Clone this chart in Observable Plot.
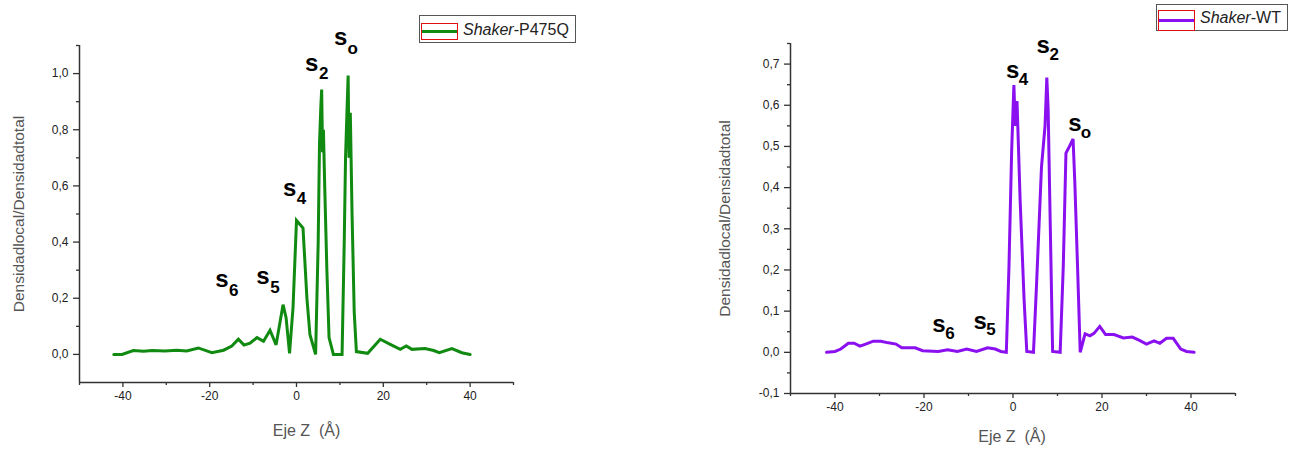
<!DOCTYPE html>
<html>
<head>
<meta charset="utf-8">
<script src="https://cdn.jsdelivr.net/npm/d3@7"></script>
<script src="https://cdn.jsdelivr.net/npm/@observablehq/plot@0.6"></script>
<style>
  body { margin: 0; background: #fff; font-family: "Liberation Sans", Arial, sans-serif; }
  #wrap { position: relative; width: 1298px; height: 451px; overflow: hidden; background: #fff; }
  .panel { position: absolute; top: 0; }
  .legend { position: absolute; box-sizing: border-box; border: 1px solid #555; background: #fff;
            font-size: 16px; color: #222; white-space: nowrap; }
  .legend .sw { position: absolute; box-sizing: border-box; border: 1px solid #e01010; }
  .legend .ln { position: absolute; left: 0; right: 0; height: 3px; }
  .legend .tx { position: absolute; }
</style>
</head>
<body>
<div id="wrap"></div>
<script>
// ---------- data ----------
const p475qZ = [-42.1,-40.2,-37.6,-35.2,-33.3,-30.3,-27.6,-25.3,-22.6,-19.5,-16.8,-14.9,-13.4,-12.1,-10.7,-9.1,-7.6,-6.1,-4.7,-3.1,-2.4,-1.6,-0.8,0.0,1.5,2.4,3.1,4.4,5.0,5.3,5.6,5.8,6.0,6.2,6.5,7.0,7.5,8.5,10.5,11.0,11.3,11.6,11.9,12.1,12.4,12.8,13.3,13.8,16.4,19.3,21.6,23.9,25.3,26.6,29.6,31.6,32.9,35.8,38.1,40.0];
const p475qD = [0.0,0.0,0.014,0.011,0.014,0.012,0.015,0.012,0.023,0.006,0.015,0.03,0.054,0.033,0.04,0.06,0.047,0.086,0.034,0.177,0.131,0.004,0.167,0.477,0.45,0.2,0.07,0.0,0.4,0.75,0.88,0.943,0.72,0.80,0.6,0.3,0.06,0.0,0.0,0.4,0.7,0.85,0.993,0.70,0.86,0.5,0.15,0.01,0.004,0.054,0.036,0.018,0.03,0.018,0.021,0.014,0.006,0.021,0.006,0.0];

const wtZ = [-41.9,-40,-38.7,-37,-35.7,-34.4,-33.1,-31.4,-29.7,-28,-26.3,-25,-22,-20.3,-16.8,-14.7,-12.5,-10.4,-8.2,-5.7,-4,-2.7,-1.5,-0.9,-0.3,0.2,0.5,0.9,1.6,2.5,3.1,4.6,5.3,6.4,7.2,7.6,7.9,8.2,8.9,10.6,11.3,11.9,12.5,13.5,13.9,14.5,15.1,16.2,17.3,18.2,19.5,20.8,22.7,24.8,26.8,28.2,30,31.7,33,34.5,36,37.7,39,40.7];
const wtD = [0,0.002,0.008,0.022,0.022,0.015,0.02,0.027,0.027,0.023,0.02,0.011,0.011,0.004,0.002,0.006,0.002,0.008,0.002,0.011,0.008,0.002,0,0.21,0.49,0.649,0.55,0.61,0.37,0.126,0.002,0,0.167,0.45,0.55,0.667,0.59,0.41,0.002,0,0.21,0.484,0.496,0.518,0.41,0.21,0,0.045,0.04,0.046,0.063,0.043,0.043,0.035,0.037,0.03,0.02,0.028,0.022,0.034,0.034,0.008,0.002,0];

// peak labels (site subscript, position in data units)
const p475qLabels = ["o","2","4","5","6"];
const p475qLabelZ = [10.2, 3.5, -1.6, -7.75, -17.2];
const p475qLabelD = [1.128, 1.038, 0.593, 0.278, 0.268];
const wtLabels = ["4","2","o","5","6"];
const wtLabelZ = [-0.1, 6.8, 13.9, -7.4, -16.65];
const wtLabelD = [0.684, 0.745, 0.556, 0.076, 0.068];

const xMajor = [-40,-20,0,20,40];
const xMinor = [-50,-30,-10,10,30,50];
const yMajorL = [0,0.2,0.4,0.6,0.8,1.0];
const yMinorL = [0.1,0.3,0.5,0.7,0.9,1.1];
const yMajorR = [-0.1,0,0.1,0.2,0.3,0.4,0.5,0.6,0.7];
const yMinorR = [-0.05,0.05,0.15,0.25,0.35,0.45,0.55,0.65,0.75];

const yLabel = "Densidadlocal/Densidadtotal";
const xLabel = "Eje Z\u00a0 (Å)";

const comma = d => d3.format(".1f")(d).replace(".", ",").replace("−", "-");
const fontFam = "'Liberation Sans', Arial, sans-serif";

function panel(opts) {
  const data = opts.z.map((z, i) => ({z, d: opts.d[i]}));
  const labs = opts.lab.map((s, i) => ({s, z: opts.labZ[i], d: opts.labD[i]}));
  return Plot.plot({
    width: opts.width, height: 451,
    marginLeft: opts.ml, marginRight: opts.mr, marginTop: opts.mt, marginBottom: opts.mb,
    style: {fontFamily: fontFam, background: "#fff", overflow: "visible"},
    x: {domain: [-50, 50]},
    y: {domain: opts.ydom},
    marks: [
      Plot.axisX({ticks: xMajor, tickSize: 5, tickPadding: 4, tickFormat: d => String(d), fontSize: 12, fill: "#222", stroke: "#333", strokeWidth: 1.3, label: null}),
      Plot.axisX({ticks: xMinor, tickSize: 3, tickFormat: () => "", stroke: "#333", strokeWidth: 1.3, label: null}),
      Plot.axisY({ticks: opts.yMajor, tickSize: 6, tickPadding: 5, tickFormat: comma, fontSize: 12, fill: "#222", stroke: "#333", strokeWidth: 1.3, label: null}),
      Plot.axisY({ticks: opts.yMinor, tickSize: 3, tickFormat: () => "", stroke: "#333", strokeWidth: 1.3, label: null}),
      Plot.ruleX([-50], {stroke: "#333", strokeWidth: 1.5}),
      Plot.ruleY([opts.ydom[0]], {stroke: "#333", strokeWidth: 1.5}),
      Plot.line(data, {x: "z", y: "d", stroke: opts.color, strokeWidth: 3, strokeLinejoin: "miter", strokeMiterlimit: 3}),
      Plot.text(labs, {x: "z", y: "d", text: () => "s", fontSize: 24, fontWeight: "bold", fill: "#000"}),
      Plot.text(labs, {x: "z", y: "d", text: "s", dx: opts.subDx, dy: opts.subDy, fontSize: 17, fontWeight: "bold", fill: "#000"}),
      Plot.text([yLabel], {text: d => d, frameAnchor: "left", textAnchor: "middle", dx: -opts.ylOff, rotate: -90, fontSize: 15.5, fill: "#555"}),
      Plot.text([xLabel], {text: d => d, frameAnchor: "bottom", textAnchor: "middle", dx: opts.xlDx, dy: opts.xlOff, fontSize: 16, fill: "#555"})
    ]
  });
}

const wrap = document.getElementById("wrap");

const left = panel({
  z: p475qZ, d: p475qD, lab: p475qLabels, labZ: p475qLabelZ, labD: p475qLabelD,
  width: 649, ml: 79, mr: 136, mt: 45, mb: 69, ydom: [-0.1, 1.1],
  yMajor: yMajorL, yMinor: yMinorL, color: "#108a10",
  subDx: 12, subDy: 11, ylOff: 60, xlOff: 53, xlDx: 10
});
left.classList.add("panel");
left.style.left = "0px";
wrap.appendChild(left);

const right = panel({
  z: wtZ, d: wtD, lab: wtLabels, labZ: wtLabelZ, labD: wtLabelD,
  width: 649, ml: 141, mr: 63, mt: 43, mb: 58, ydom: [-0.1, 0.75],
  yMajor: yMajorR, yMinor: yMinorR, color: "#8a10f0",
  subDx: 11, subDy: 9, ylOff: 65, xlOff: 48, xlDx: -1
});
right.classList.add("panel");
right.style.left = "649px";
wrap.appendChild(right);

// ---------- legends ----------
function legend(x, y, w, h, sw, color, lineY, txtX, txtY, name) {
  const lg = document.createElement("div");
  lg.className = "legend";
  Object.assign(lg.style, {left: x + "px", top: y + "px", width: w + "px", height: h + "px"});
  const box = document.createElement("div");
  box.className = "sw";
  Object.assign(box.style, {left: sw[0] + "px", top: sw[1] + "px", width: sw[2] + "px", height: sw[3] + "px"});
  const ln = document.createElement("div");
  ln.className = "ln";
  Object.assign(ln.style, {top: lineY + "px", background: color});
  box.appendChild(ln);
  const tx = document.createElement("div");
  tx.className = "tx";
  Object.assign(tx.style, {left: txtX + "px", top: txtY + "px"});
  tx.innerHTML = "<i>Shaker</i>-" + name;
  lg.appendChild(box);
  lg.appendChild(tx);
  wrap.appendChild(lg);
}
legend(419, 15, 157, 28, [1, 7, 37, 17], "#108a10", 6, 43, 5, "P475Q");
legend(1156, 4, 132, 27, [1, 5, 37, 21], "#8a10f0", 8, 43, 4, "WT");
</script>
</body>
</html>
